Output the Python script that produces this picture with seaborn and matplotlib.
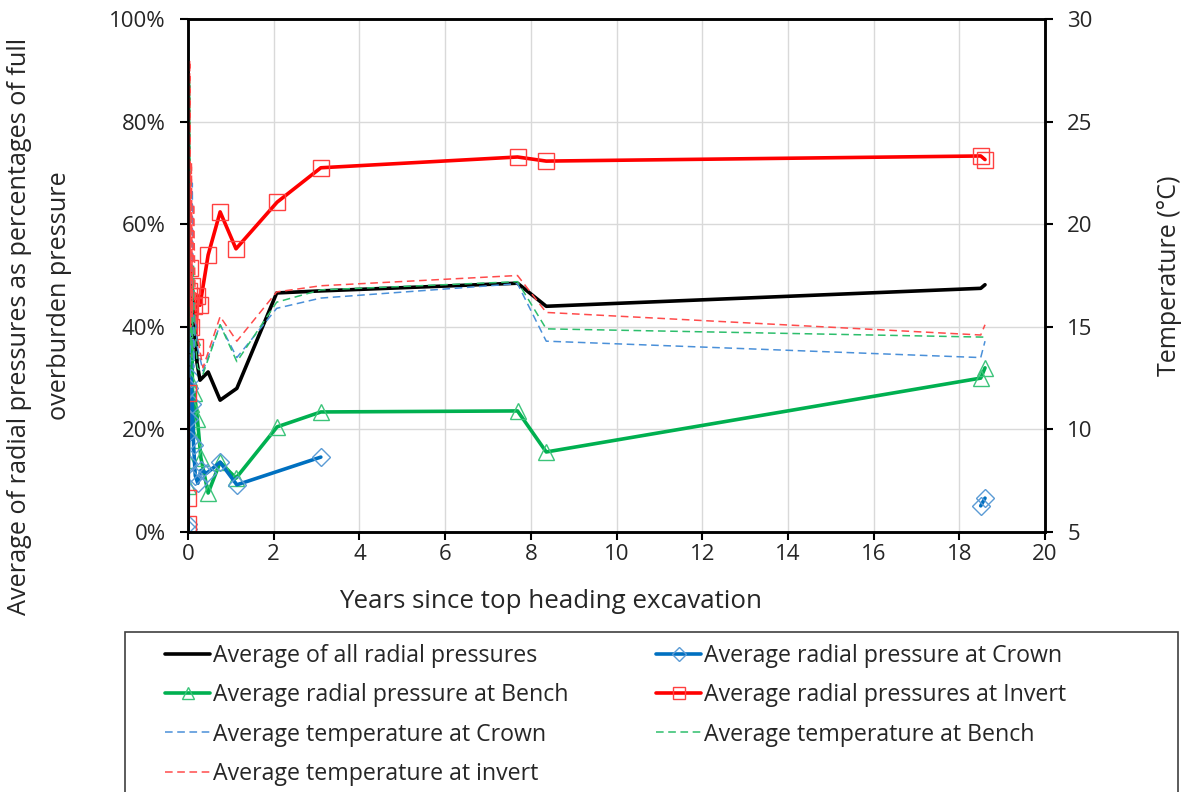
import numpy as np
import pandas as pd
import matplotlib
matplotlib.use("Agg")
import matplotlib.pyplot as plt
from matplotlib.lines import Line2D
from matplotlib.patches import Rectangle
from matplotlib.ticker import FuncFormatter, MultipleLocator
import seaborn as sns

# ---- data: years since top heading excavation ----
avg_x = [0.0, 0.02, 0.04, 0.06, 0.09, 0.12, 0.16, 0.21, 0.28, 0.47, 0.75, 1.14, 2.07, 3.1, 7.69, 8.36, 18.5, 18.6]
avg_y = [35, 44, 50, 42, 47, 38, 40, 33, 29.6, 31.2, 25.7, 28.0, 46.6, 47.0, 48.5, 44.0, 47.5, 48.2]

crown_x = [0.0, 0.005, 0.01, 0.02, 0.03, 0.05, 0.07, 0.1, 0.13, 0.17, 0.23, 0.3, 0.44, 0.75, 1.14, 3.1]
crown_y = [0.5, 1.5, 13.5, 22, 28, 18, 30, 25, 17, 11, 9.5, 12.0, 11.5, 13.6, 9.2, 14.6]
crown_late_x = [18.5, 18.6]
crown_late_y = [5.1, 6.6]

bench_x = [0.0, 0.01, 0.02, 0.03, 0.05, 0.07, 0.09, 0.12, 0.15, 0.22, 0.3, 0.47, 0.75, 1.12, 2.08, 3.1, 7.69, 8.36, 18.5, 18.6]
bench_y = [9, 14, 30, 20, 35, 25, 38, 18, 27, 22, 14.5, 7.6, 13.6, 10.5, 20.5, 23.4, 23.6, 15.6, 30.0, 32.0]

invert_x = [0.0, 0.004, 0.008, 0.012, 0.016, 0.02, 0.03, 0.04, 0.05, 0.06, 0.08, 0.1, 0.13, 0.17, 0.22, 0.28, 0.47, 0.75, 1.12, 2.08, 3.1, 7.69, 8.36, 18.5, 18.6]
invert_y = [1.5, 6.6, 27, 45, 43, 47, 41, 44, 51.5, 46, 40, 48, 44, 36, 46, 44.2, 54, 62.4, 55.2, 64.3, 71, 73.1, 72.3, 73.3, 72.6]

temp_x = [0.0, 0.005, 0.01, 0.02, 0.03, 0.04, 0.06, 0.08, 0.1, 0.13, 0.17, 0.22, 0.35, 0.75, 1.14, 2.07, 3.1, 7.69, 8.36, 18.5, 18.6]
temp_crown = [14, 20, 13, 16, 25, 12.5, 15, 14, 22, 13, 15.5, 14, 12.85, 15.1, 13.5, 15.9, 16.4, 17.1, 14.3, 13.5, 14.3]
temp_bench = [13, 30, 14, 20, 15, 27, 14, 16, 13.5, 18, 14.5, 13, 12.7, 15.1, 13.3, 16.2, 16.8, 17.2, 14.9, 14.5, 14.5]
temp_invert = [15, 30, 14, 22, 16, 28, 15, 23, 15.5, 21, 16, 14.5, 13, 15.5, 14.3, 16.7, 17.0, 17.5, 15.7, 14.6, 15.1]

labels = [
    "Average of all radial pressures",
    "Average radial pressure at Crown",
    "Average radial pressure at Bench",
    "Average radial pressures at Invert",
    "Average temperature at Crown",
    "Average temperature at Bench",
    "Average temperature at invert",
]

# ---- styling ----
BLACK = "#000000"
BLUE = "#0070C0"
BLUE_MK = "#5B9BD5"
GREEN = "#00B050"
GREEN_MK = "#3CC47A"
RED = "#FF0000"
RED_MK = "#FF4040"
T_BLUE = "#4A90D9"
T_GREEN = "#2DBE6C"
T_RED = "#FF4B4B"

sns.set_style("white")
plt.rcParams["font.family"] = ["Open Sans", "DejaVu Sans"]
TXT = "#262626"

W, H = 1190, 792
fig = plt.figure(figsize=(W / 100, H / 100), dpi=100)
ax = fig.add_axes([188 / W, 1 - 532 / H, (1045 - 188) / W, (532 - 19) / H])
ax2 = ax.twinx()

THICK = 2.6
THIN = 1.1
MS = 11
dash = (5, 3)

def pressure_line(x, y, color, mk=None, mkcolor=None, ms=MS):
    kw = dict(x=x, y=y, ax=ax, sort=False, estimator=None, color=color,
              linewidth=THICK, legend=False)
    if mk is not None:
        kw.update(marker=mk, markersize=ms, markerfacecolor="none",
                  markeredgecolor=mkcolor, markeredgewidth=1.0)
    sns.lineplot(**kw)

pressure_line(bench_x, bench_y, GREEN, "^", GREEN_MK, 12)
pressure_line(crown_x, crown_y, BLUE, "D", BLUE_MK, 9)
pressure_line(crown_late_x, crown_late_y, BLUE, "D", BLUE_MK, 9)
pressure_line(invert_x, invert_y, RED, "s", RED_MK, 11)
pressure_line(avg_x, avg_y, BLACK)

for ty, c in [(temp_crown, T_BLUE), (temp_bench, T_GREEN), (temp_invert, T_RED)]:
    sns.lineplot(x=temp_x, y=ty, ax=ax2, sort=False, estimator=None, color=c,
                 linewidth=THIN, legend=False)
for ln in ax2.get_lines():
    ln.set_dashes(dash)

# ---- axes ----
ax.set_xlim(0, 20)
ax.set_ylim(0, 100)
ax2.set_ylim(5, 30)
ax.xaxis.set_major_locator(MultipleLocator(2))
ax.yaxis.set_major_locator(MultipleLocator(20))
ax2.yaxis.set_major_locator(MultipleLocator(5))
ax.yaxis.set_major_formatter(FuncFormatter(lambda v, p: f"{v:.0f}%"))

ax.grid(True, color="#D9D9D9", linewidth=1.0)
ax.set_axisbelow(True)
for a in (ax, ax2):
    for sp in a.spines.values():
        sp.set_color("black")
        sp.set_linewidth(1.8)

TICK_FS = 16
ax.tick_params(axis="x", direction="out", length=6, width=1.5,
               labelsize=TICK_FS, labelcolor=TXT, color="black", pad=3, bottom=True)
ax.tick_params(axis="y", direction="out", length=6, width=1.5,
               labelsize=TICK_FS, labelcolor=TXT, color="black", pad=10, left=True)
ax2.tick_params(axis="y", direction="out", length=6, width=1.5,
                labelsize=TICK_FS, labelcolor=TXT, color="black", pad=10, right=True)

ax.set_xlabel("Years since top heading excavation", fontsize=18.6, color=TXT)
ax.xaxis.set_label_coords((551 - 188) / 857, (532 - 601) / 513)
ax.xaxis.label.set_va("center")

YLAB_FS = 18.2
ax.set_ylabel("")
fig.text(20 / W, 1 - 326 / H, "Average of radial pressures as percentages of full",
         rotation=90, ha="center", va="center", fontsize=YLAB_FS, color=TXT)
fig.text(60 / W, 1 - 296 / H, "overburden pressure",
         rotation=90, ha="center", va="center", fontsize=YLAB_FS, color=TXT)

ax2.set_ylabel("Temperature (\u00b0C)", fontsize=18, color=TXT)
ax2.yaxis.set_label_coords((1170 - 188) / 857, 0.5)
ax2.yaxis.label.set_va("center")
ax2.yaxis.label.set_ha("center")

# ---- legend ----
handles = [
    Line2D([], [], color=BLACK, lw=THICK),
    Line2D([], [], color=BLUE, lw=THICK, marker="D", ms=7, mfc="none", mec=BLUE_MK),
    Line2D([], [], color=GREEN, lw=THICK, marker="^", ms=9, mfc="none", mec=GREEN_MK),
    Line2D([], [], color=RED, lw=THICK, marker="s", ms=8, mfc="none", mec=RED_MK),
    Line2D([], [], color=T_BLUE, lw=THIN, dashes=dash),
    Line2D([], [], color=T_GREEN, lw=THIN, dashes=dash),
    Line2D([], [], color=T_RED, lw=THIN, dashes=dash),
]
order = [0, 2, 4, 6, 1, 3, 5]
LEG_FS = 16.7
leg = fig.legend([handles[i] for i in order], [labels[i] for i in order],
                 loc="upper left", bbox_to_anchor=(165 / W, 1 - 644 / H),
                 ncol=2, fontsize=LEG_FS, frameon=False,
                 handlelength=1.95, handletextpad=0.1,
                 columnspacing=3.8, labelspacing=0.66, borderpad=0.0,
                 borderaxespad=0)
for t in leg.get_texts():
    t.set_color(TXT)
fig.patches.append(Rectangle((125 / W, -0.05), (1178 - 125) / W, 1 - 632 / H + 0.05,
                             transform=fig.transFigure, fill=False,
                             edgecolor="#404040", linewidth=1.2, zorder=5))

fig.savefig("out.png", dpi=100)
